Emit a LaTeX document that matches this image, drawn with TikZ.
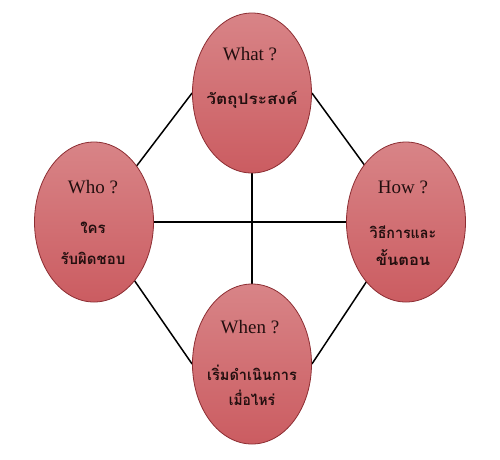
\documentclass[tikz,border=0pt]{standalone}
\usepackage{fontspec}
\setmainfont{Liberation Serif}
\newfontfamily\thaifont[Script=Thai]{Loma}
\usetikzlibrary{shapes.geometric,backgrounds}
\definecolor{rimred}{RGB}{140,45,50}
\definecolor{toppink}{RGB}{216,132,135}
\definecolor{midred}{RGB}{186,55,63}
\definecolor{botpink}{RGB}{203,92,97}
\definecolor{txt}{RGB}{35,15,15}
\tikzset{
  bubble/.style={ellipse, minimum width=119pt, minimum height=160pt, inner sep=0pt,
    draw=rimred, line width=0.8pt, top color=toppink, middle color=midred, bottom color=botpink},
  head/.style={text=txt, font=\fontsize{19}{22}\selectfont, inner sep=0pt},
  thai/.style={text=txt, font=\thaifont\bfseries\fontsize{15}{18}\selectfont, inner sep=0pt},
  link/.style={draw=black, line width=1.5pt}
}
\begin{document}
\begin{tikzpicture}[x=1pt,y=-1pt]
\useasboundingbox (0,0) rectangle (500,459);
\node[bubble] (what) at (252,93) {};
\node[bubble] (who) at (94,222) {};
\node[bubble] (how) at (406,222) {};
\node[bubble] (when) at (252,364) {};
\begin{pgfonlayer}{background}
\draw[link] (what.west) -- (who.center);
\draw[link] (what.east) -- (how.center);
\draw[link] (when.west) -- (who.center);
\draw[link] (when.east) -- (how.center);
\draw[link] (what.center) -- (when.center);
\draw[link] (who.center) -- (how.center);
\end{pgfonlayer}
\node[head] (whatT) at (250,54) {What ?};
\node[thai] (whatX) at (252,100) {\scalebox{1.15}[1]{วัตถุประสงค์}};
\node[head] (whoT) at (93,187) {Who ?};
\node[thai] (whoX1) at (93,228) {ใคร};
\node[thai] (whoX2) at (93,258) {รับผิดชอบ};
\node[head] (howT) at (403,187) {How ?};
\node[thai] (howX1) at (403,232) {\scalebox{0.95}[1]{วิธีการและ}};
\node[thai] (howX2) at (403,258) {\scalebox{1.1}[1]{ขั้นตอน}};
\node[head] (whenT) at (250,327) {When ?};
\node[thai] (whenX1) at (252,373) {\scalebox{0.97}[1]{เริ่มดำเนินการ}};
\node[thai] (whenX2) at (252,398) {\scalebox{0.92}[1]{เมื่อไหร่}};
\end{tikzpicture}
\end{document}
